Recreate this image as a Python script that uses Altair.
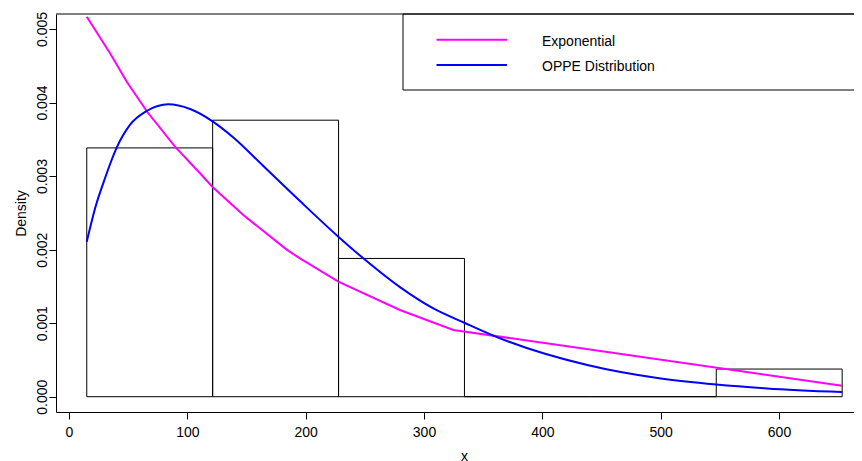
import altair as alt
import pandas as pd

# Histogram (density scale)
bin_left = [15.0, 121.4, 227.8, 334.2, 440.6, 547.0]
bin_right = [121.4, 227.8, 334.2, 440.6, 547.0, 653.4]
bin_density = [0.003383, 0.003760, 0.001880, 0.0, 0.0, 0.000376]

# Exponential fit (drawn through sorted sample points)
exp_x = [15.0, 34.7, 48.8, 66.2, 89.6, 110.7, 121.1, 147.3, 184.0, 195.2, 227.6,
         279.7, 324.8, 653.4]
exp_y = [0.005167, 0.00467, 0.004283, 0.003871, 0.0034, 0.003038, 0.002856, 0.002471,
         0.002000, 0.00188, 0.001564, 0.001179, 0.000907, 0.00015]

# OPPE distribution fit
oppe_x = [15.0, 22.0, 30.4, 40.3, 51.5, 65.7, 83.9, 102.3, 121.3, 138.9, 164.0, 195.2,
          227.6, 248.7, 279.7, 307.9, 334.1, 364.2, 438.0, 498.7, 547.0, 589.7, 653.4]
oppe_y = [0.002108, 0.00256, 0.00297, 0.003386, 0.003695, 0.003885, 0.003976, 0.003912,
          0.003745, 0.003525, 0.00314, 0.00266, 0.002176, 0.001882, 0.00149, 0.0012,
          0.001006, 0.000794, 0.00043, 0.00025, 0.000165, 0.000113, 0.000064]

x_ticks = [0, 100, 200, 300, 400, 500, 600]
y_ticks = [0.0, 0.001, 0.002, 0.003, 0.004, 0.005]

legend_labels = ["Exponential", "OPPE Distribution"]
legend_colors = ["#FF00FF", "#0000FF"]

FONT = "Liberation Sans, Arial, sans-serif"
FS = 14
W, H = 798, 398

hist_df = pd.DataFrame({"left": bin_left, "right": bin_right, "density": bin_density,
                        "zero": [0.0] * len(bin_left)})
exp_df = pd.DataFrame({"x": exp_x, "y": exp_y})
oppe_df = pd.DataFrame({"x": oppe_x, "y": oppe_y})

xscale = alt.Scale(domain=[-10.99, 663.4], nice=False, zero=False)
yscale = alt.Scale(domain=[-0.000208, 0.005204], nice=False, zero=False)

xaxis = alt.Axis(values=x_ticks, title="x", grid=False, format="d",
                 labelBaseline="alphabetic", labelPadding=17.5, labelAlign="center",
                 titleY=48, titleX=408, titleBaseline="alphabetic", titleAlign="center")
yaxis = alt.Axis(values=y_ticks, title="Density", grid=False, format=".3f",
                 labelAngle=270, labelAlign="center", labelBaseline="alphabetic",
                 labelPadding=3, titleAngle=270, titleBaseline="alphabetic",
                 titleAlign="center", titleX=-31)

hist = alt.Chart(hist_df).mark_rect(stroke="black", strokeWidth=1, fill="white",
                                    fillOpacity=0).encode(
    x=alt.X("left:Q", scale=xscale, axis=xaxis),
    x2="right:Q",
    y=alt.Y("zero:Q", scale=yscale, axis=yaxis),
    y2="density:Q",
)

exp_line = alt.Chart(exp_df).mark_line(color="#FF00FF", strokeWidth=2, clip=True).encode(
    x=alt.X("x:Q", scale=xscale), y=alt.Y("y:Q", scale=yscale), order="x:Q")

oppe_line = alt.Chart(oppe_df).mark_line(color="#0000FF", strokeWidth=2, clip=True,
                                         interpolate="monotone").encode(
    x=alt.X("x:Q", scale=xscale), y=alt.Y("y:Q", scale=yscale), order="x:Q")

one = pd.DataFrame({"k": [0]})

top_frame = alt.Chart(one).mark_rule(color="black", strokeWidth=1).encode(
    x=alt.value(0), x2=alt.value(W + 40), y=alt.value(0))

legend_box = alt.Chart(one).mark_rect(stroke="black", strokeWidth=1, fill="white").encode(
    x=alt.value(347), x2=alt.value(W + 40), y=alt.value(0), y2=alt.value(76))

legend_layers = []
for i, (lab, col) in enumerate(zip(legend_labels, legend_colors)):
    ly = 25.7 + i * 25.3
    legend_layers.append(alt.Chart(one).mark_rule(color=col, strokeWidth=2).encode(
        x=alt.value(380.5), x2=alt.value(451), y=alt.value(ly)))
    legend_layers.append(alt.Chart(one).mark_text(
        align="left", baseline="alphabetic", font=FONT, fontSize=FS, color="black").encode(
        x=alt.value(486), y=alt.value(ly + 6.3), text=alt.value(lab)))

chart = alt.layer(hist, exp_line, oppe_line, legend_box, top_frame, *legend_layers).properties(
    width=W, height=H,
    autosize=alt.AutoSizeParams(type="none"),
    padding={"left": 48, "top": 6, "right": 0, "bottom": 50},
).configure_view(stroke=None).configure_axis(
    domainColor="black", tickColor="black", labelColor="black", titleColor="black",
    tickSize=7, labelFont=FONT, titleFont=FONT, labelFontSize=FS, titleFontSize=FS,
    titleFontWeight="normal", labelOverlap=False, domainWidth=1, tickWidth=1,
)

chart.save("out.html", embed_options={"renderer": "svg", "actions": False})
